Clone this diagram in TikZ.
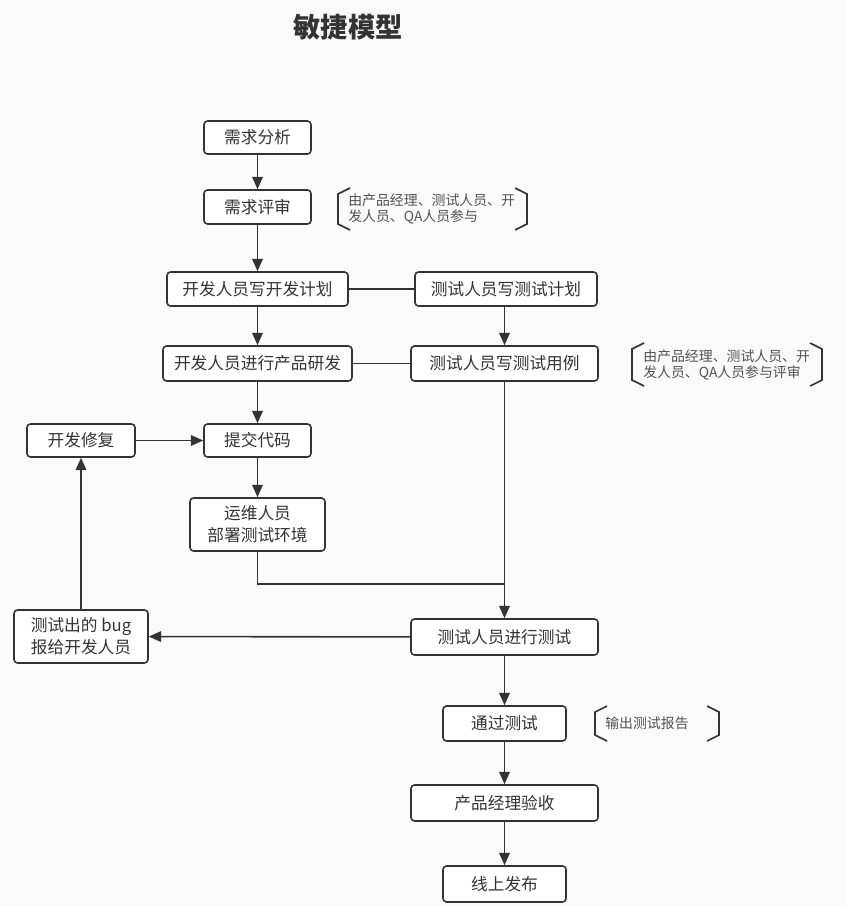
\documentclass[tikz,border=0pt]{standalone}
\usepackage{fontspec}
\setmainfont{Noto Sans CJK SC}
\usetikzlibrary{arrows.meta}
\definecolor{ink}{HTML}{333333}
\definecolor{paper}{HTML}{FAFAFA}
\tikzset{
  box/.style={draw=ink, line width=0.9pt, rounded corners=2pt, fill=white, text=ink,
    inner sep=0pt, align=center, font=\fontsize{9.5pt}{12.5pt}\selectfont},
  flow/.style={draw=ink, line width=0.9pt, -{Triangle[length=7pt,width=6pt]}},
  link/.style={draw=ink, line width=0.9pt},
  note/.style={text=ink!85, anchor=west, align=left, inner sep=0pt,
    font=\fontsize{7.9pt}{9.6pt}\selectfont},
}
% brackets round a side note: left, top, right, bottom
\newcommand{\notebrackets}[4]{%
  \draw[ink, line width=0.9pt] (#1+12,#2) -- (#1,#2+6) -- (#1,#4-6) -- (#1+12,#4);
  \draw[ink, line width=0.9pt] (#3-12,#2) -- (#3,#2+6) -- (#3,#4-6) -- (#3-12,#4);
}
\begin{document}
\begin{tikzpicture}[x=0.02cm,y=-0.02cm]
  \fill[paper] (0,0) rectangle (845,906);
  \useasboundingbox (0,0) rectangle (845,906);
  \node[text=ink, font=\fontsize{15.5pt}{18pt}\selectfont\bfseries] (title) at (348,27) {敏捷模型};

  % left column
  \node[box, minimum width=2.14cm, minimum height=0.66cm] (analysis) at (257.5,137.5) {需求分析};
  \node[box, minimum width=2.14cm, minimum height=0.68cm] (review) at (257.5,207) {需求评审};
  \node[box, minimum width=3.62cm, minimum height=0.68cm] (devplan) at (257.5,289) {开发人员写开发计划};
  \node[box, minimum width=3.78cm, minimum height=0.70cm] (develop) at (257.5,363.5) {开发人员进行产品研发};
  \node[box, minimum width=2.14cm, minimum height=0.66cm] (commit) at (257.5,440.5) {提交代码};
  \node[box, minimum width=2.70cm, minimum height=1.06cm] (deploy) at (257.5,524.5) {运维人员\\部署测试环境};
  \node[box, minimum width=2.16cm, minimum height=0.66cm] (fix) at (81,440.5) {开发修复};
  \node[box, minimum width=2.68cm, minimum height=1.06cm] (bugrep) at (81,636.5) {测试出的 bug\\报给开发人员};

  % right column
  \node[box, minimum width=3.64cm, minimum height=0.68cm] (testplan) at (506,289) {测试人员写测试计划};
  \node[box, minimum width=3.74cm, minimum height=0.70cm] (cases) at (504.5,363.5) {测试人员写测试用例};
  \node[box, minimum width=3.74cm, minimum height=0.72cm] (runtest) at (504.5,637) {测试人员进行测试};
  \node[box, minimum width=2.46cm, minimum height=0.70cm] (pass) at (504.5,723.5) {通过测试};
  \node[box, minimum width=3.74cm, minimum height=0.72cm] (accept) at (504.5,803) {产品经理验收};
  \node[box, minimum width=2.46cm, minimum height=0.72cm] (release) at (504.5,884) {线上发布};
  \coordinate (join) at (504.5,584);

  % side notes
  \notebrackets{338}{188}{527}{230}
  \node[note] (note1) at (348,209) {由产品经理、测试人员、开\\发人员、QA人员参与};
  \notebrackets{632}{343}{822}{386}
  \node[note] (note2) at (643,365) {由产品经理、测试人员、开\\发人员、QA人员参与评审};
  \notebrackets{595}{706}{719}{741}
  \node[note] (note3) at (605,723.5) {输出测试报告};

  % connectors
  \draw[flow] (analysis) -- (review);
  \draw[flow] (review) -- (devplan);
  \draw[link] (devplan) -- (testplan);
  \draw[flow] (devplan) -- (develop);
  \draw[flow] (testplan.south -| cases) -- (cases);
  \draw[link] (develop) -- (cases);
  \draw[flow] (develop) -- (commit);
  \draw[flow] (fix) -- (commit);
  \draw[flow] (commit) -- (deploy);
  \draw[link] (deploy.south) |- (join);
  \draw[flow] (cases) -- (runtest);
  \draw[flow] (runtest) -- (bugrep);
  \draw[flow] (bugrep) -- (fix);
  \draw[flow] (runtest) -- (pass);
  \draw[flow] (pass) -- (accept);
  \draw[flow] (accept) -- (release);
\end{tikzpicture}
\end{document}
